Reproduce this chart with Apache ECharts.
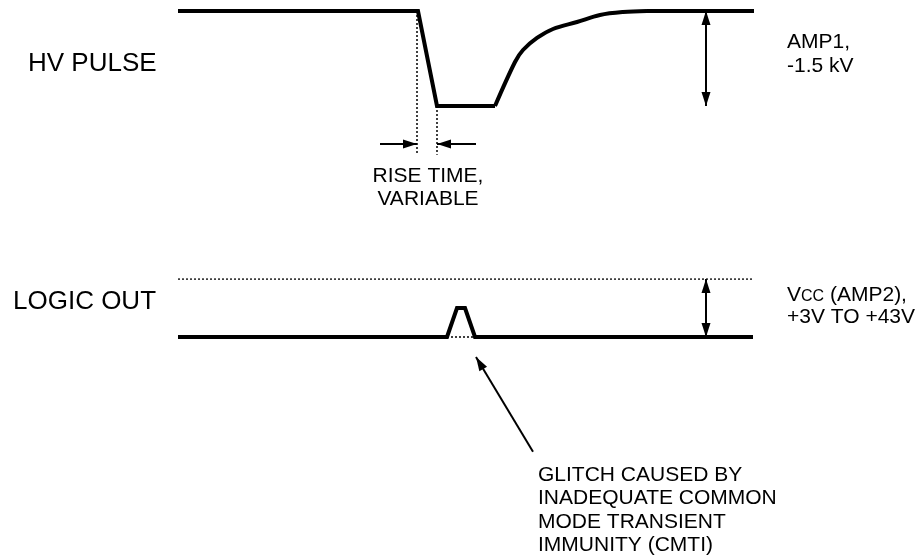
<html>
<head>
    <meta charset="UTF-8">
    <title>CMTI glitch</title>
    <script src="https://cdn.jsdelivr.net/npm/echarts@6/dist/echarts.min.js"></script>
    <style>
        body { margin: 0; background: #fff; }
        #container { width: 917px; height: 556px; }
    </style>
</head>
<body>
<div id="container"></div>
<script>
    // time axis is in arbitrary units (same for both traces)
    var hvEdgeTime = [0, 240, 259, 317];
    var hvEdgeKv = [0, 0, -1.5, -1.5];
    var hvRecoverTime = [317, 337, 345, 359, 375, 399, 422, 445, 469];
    var hvRecoverKv = [-1.5, -0.805, -0.616, -0.426, -0.284, -0.174, -0.063, -0.016, 0];
    var hvTailTime = [469, 576];
    var hvTailKv = [0, 0];

    var logicTime = [0, 269, 279, 287, 297, 575];
    var logicLevel = [0, 0, 0.5, 0.5, 0, 0];
    var vccLevel = 1;
    var glitchSpan = [269, 297];

    var riseMarks = [239, 259];      // dotted markers around the falling edge
    var riseArrowY = -2.1;
    var riseMarkBottom = -2.27;
    var ampArrowTime = 528;
    var glitchArrowFrom = [355, -1.98];
    var glitchArrowTo = [298, -0.345];

    function zip(a, b) {
        var out = [];
        for (var i = 0; i < a.length; i++) out.push([a[i], b[i]]);
        return out;
    }

    var mycharts = echarts.init(document.getElementById('container'));
    var ink = '#000';
    var font = '"Liberation Sans", Arial, sans-serif';
    var thick = { color: ink, width: 4, cap: 'butt', join: 'miter' };
    var dots = { color: ink, width: 1.5, type: [2, 2], opacity: 1 };
    var thin = { color: ink, width: 2, opacity: 1 };
    // triangle head; the extra moveTo points make a square box centred on the tip
    var headPath = 'path://M0,0L4.5,14L-4.5,14ZM-14,-14M14,14';

    function arrows(name, grid, sym, items) {
        return {
            name: name, type: 'lines', coordinateSystem: 'cartesian2d',
            xAxisIndex: grid, yAxisIndex: grid, lineStyle: thin,
            symbol: sym, symbolSize: 28,
            data: items
        };
    }

    var option = {
        animation: false,
        grid: [
            { left: 178, width: 576, top: 11, height: 158.33 },
            { left: 178, width: 576, top: 279, height: 174 }
        ],
        xAxis: [
            { gridIndex: 0, type: 'value', min: 0, max: 576, show: false },
            { gridIndex: 1, type: 'value', min: 0, max: 576, show: false }
        ],
        yAxis: [
            { gridIndex: 0, type: 'value', min: -2.5, max: 0, show: false },
            { gridIndex: 1, type: 'value', min: -2, max: 1, show: false }
        ],
        series: [
            {
                name: 'hv edge', type: 'line', xAxisIndex: 0, yAxisIndex: 0,
                data: zip(hvEdgeTime, hvEdgeKv), showSymbol: false, clip: false,
                lineStyle: thick
            },
            {
                name: 'hv recover', type: 'line', xAxisIndex: 0, yAxisIndex: 0,
                data: zip(hvRecoverTime, hvRecoverKv), showSymbol: false, clip: false,
                smooth: 0.35,
                lineStyle: { color: ink, width: 4, cap: 'butt', join: 'round' }
            },
            {
                name: 'hv tail', type: 'line', xAxisIndex: 0, yAxisIndex: 0,
                data: zip(hvTailTime, hvTailKv), showSymbol: false, clip: false,
                lineStyle: thick
            },
            {
                name: 'logic', type: 'line', xAxisIndex: 1, yAxisIndex: 1,
                data: zip(logicTime, logicLevel), showSymbol: false, clip: false,
                lineStyle: thick
            },
            {
                name: 'dotted', type: 'lines', coordinateSystem: 'cartesian2d',
                xAxisIndex: 1, yAxisIndex: 1, lineStyle: dots, symbol: 'none',
                data: [
                    { coords: [[0, vccLevel], [logicTime[logicTime.length - 1], vccLevel]] },
                    { coords: [[glitchSpan[0], 0], [glitchSpan[1], 0]] }
                ]
            },
            {
                name: 'rise marks', type: 'lines', coordinateSystem: 'cartesian2d',
                xAxisIndex: 0, yAxisIndex: 0, lineStyle: dots, symbol: 'none',
                data: [
                    { coords: [[riseMarks[0], 0], [riseMarks[0], riseMarkBottom]] },
                    { coords: [[riseMarks[1], -1.5], [riseMarks[1], riseMarkBottom]] }
                ]
            },
            arrows('rise arrows', 0, ['none', headPath], [
                { coords: [[riseMarks[0] - 37, riseArrowY], [riseMarks[0], riseArrowY]] },
                { coords: [[riseMarks[1] + 39, riseArrowY], [riseMarks[1], riseArrowY]] }
            ]),
            arrows('amp1', 0, [headPath, headPath], [
                { coords: [[ampArrowTime, 0], [ampArrowTime, -1.5]] }
            ]),
            arrows('amp2', 1, [headPath, headPath], [
                { coords: [[ampArrowTime, vccLevel], [ampArrowTime, 0]] }
            ]),
            arrows('glitch arrow', 1, ['none', headPath], [
                { coords: [glitchArrowFrom, glitchArrowTo] }
            ])
        ],
        graphic: [
            { type: 'text', left: 28, top: 51, style: { text: 'HV PULSE', font: '26px ' + font, fill: ink } },
            { type: 'text', left: 13, top: 289, style: { text: 'LOGIC OUT', font: '26px ' + font, fill: ink } },
            { type: 'text', left: 787, top: 30, style: { text: 'AMP1,\n-1.5 kV', font: '21px ' + font, lineHeight: 24, fill: ink } },
            {
                type: 'text', left: 787, top: 284,
                style: {
                    text: '{v|V}{c|CC} (AMP2),\n+3V TO +43V', font: '21px ' + font, lineHeight: 22, fill: ink,
                    rich: {
                        v: { font: '21px ' + font, fill: ink },
                        c: { font: '16px ' + font, fill: ink, verticalAlign: 'bottom', padding: [0, 0, 1, 0] }
                    }
                }
            },
            { type: 'text', x: 428, y: 165, style: { text: 'RISE TIME,\nVARIABLE', font: '21px ' + font, lineHeight: 23, fill: ink, align: 'center' } },
            {
                type: 'text', left: 538, top: 463,
                style: {
                    text: 'GLITCH CAUSED BY\nINADEQUATE COMMON\nMODE TRANSIENT\nIMMUNITY (CMTI)',
                    font: '21px ' + font, lineHeight: 23.5, fill: ink
                }
            }
        ]
    };
    mycharts.setOption(option);
</script>
</body>
</html>
